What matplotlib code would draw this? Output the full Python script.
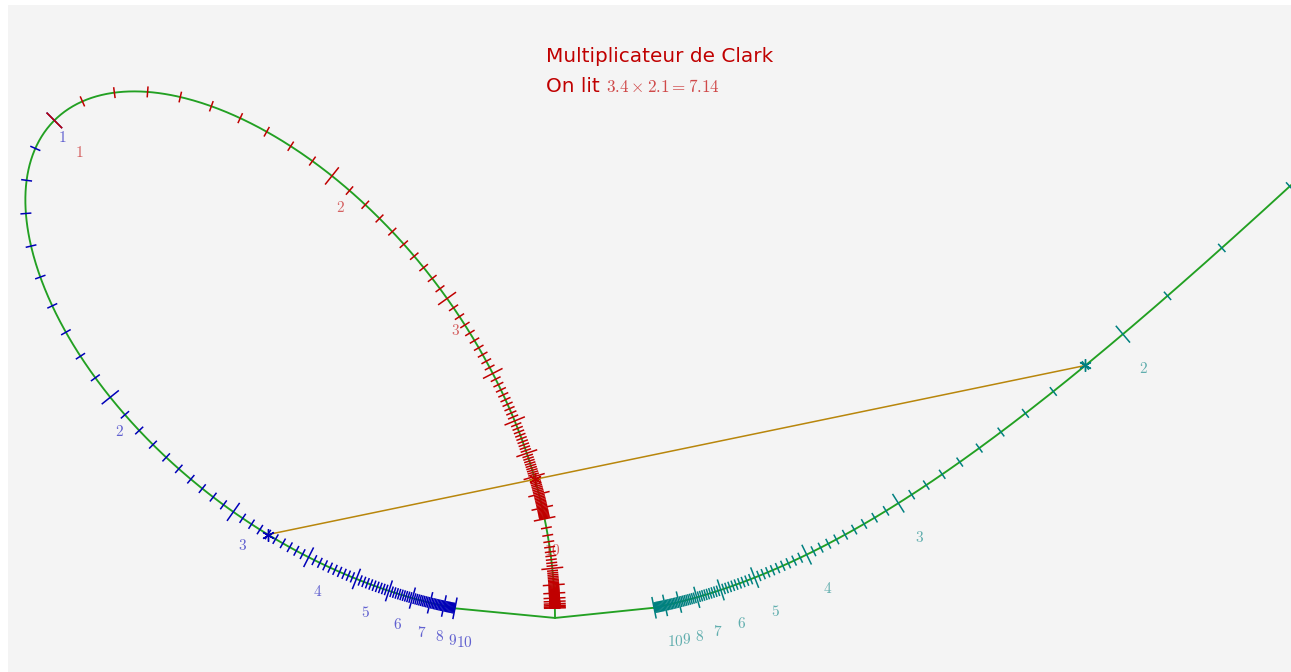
import numpy as np
import matplotlib
matplotlib.use('Agg')
import matplotlib.pyplot as plt
from matplotlib.collections import LineCollection

plt.rcParams['mathtext.fontset'] = 'cm'

# repères : valeur de graduation -> position (px)
blue_vals = [1, 1.5, 2, 2.5, 3, 3.4, 4, 10]
blue_x = [55, 40, 110, 178, 233, 268, 310, 455]
blue_y = [120, 277, 397, 469, 513, 534, 558, 607]

red_vals = [1, 1.5, 2, 2.5, 3, 7.14]
red_x = [55, 211, 332, 403, 448, 533]
red_y = [120, 106, 176, 245, 299, 480]

teal_vals = [2, 2.1, 2.5, 3, 10]
teal_x = [1123, 1085, 980, 898, 655]
teal_y = [333, 366, 449, 503, 607]

# lecture affichée
a_read, b_read = 3.4, 2.1

# graduations et étiquettes
blue_ticks = np.round(np.arange(1, 10.0001, 0.1), 2)
teal_ticks = np.round(np.arange(1, 10.0001, 0.1), 2)
red_ticks = np.concatenate([np.round(np.arange(1, 10, 0.1), 2), np.arange(10, 101, 1)])
blue_labels = [1, 2, 3, 4, 5, 6, 7, 8, 9, 10]
teal_labels = [1, 2, 3, 4, 5, 6, 7, 8, 9, 10]
red_labels = [1, 2, 3, 10]

C_GREEN = '#22a022'
C_RED = '#c00000'
C_BLUE = '#0000b8'
C_TEAL = '#008080'
C_ORANGE = '#b8860b'

XMIN, XMAX, YMIN, YMAX = 8, 1291, 5, 672

# ---- cubique nodale : P(t) = m0 (1 - t^3) + m1 t + m2 t^2, alignés si t1 t2 t3 = 1
X0, Y0, S = 640.0, 340.0, 400.0
obs = np.column_stack([
    (np.array(blue_x + red_x + teal_x) - X0) / S,
    (np.array(blue_y + red_y + teal_y) - Y0) / S,
])


def t_all(alpha):
    return np.concatenate([alpha * np.array(blue_vals, float),
                           alpha / np.array(red_vals, float),
                           np.array(teal_vals, float) / alpha ** 2])


def homog(m, t):
    t = np.asarray(t, float)
    f = np.stack([1 - t ** 3, t, t ** 2], axis=1)
    return f @ m


def project(m, t):
    h = homog(m, t)
    return h[:, :2] / h[:, 2:3]


def dlt(alpha):
    t = t_all(alpha)
    rows = []
    for (xn, yn), tt in zip(obs, t):
        f = [1 - tt ** 3, tt, tt ** 2]
        r1 = np.zeros(9)
        r2 = np.zeros(9)
        for j in range(3):
            r1[3 * j] = -f[j]
            r1[3 * j + 2] = xn * f[j]
            r2[3 * j + 1] = -f[j]
            r2[3 * j + 2] = yn * f[j]
        rows += [r1, r2]
    _, _, vt = np.linalg.svd(np.array(rows))
    return vt[-1].reshape(3, 3)


def resid(p):
    m = p[:9].reshape(3, 3)
    alpha = -np.exp(p[9])
    return (project(m, t_all(alpha)) - obs).ravel()


best = None
for la in np.linspace(-3, 3, 241):
    m = dlt(-np.exp(la))
    with np.errstate(all='ignore'):
        e = np.sum(resid(np.concatenate([m.ravel(), [la]])) ** 2)
    if np.isfinite(e) and (best is None or e < best[0]):
        best = (e, np.concatenate([m.ravel(), [la]]))

p = best[1]
lam = 1e-3
r = resid(p)
for _ in range(300):
    J = np.empty((r.size, p.size))
    for k in range(p.size):
        dp = np.zeros_like(p)
        dp[k] = 1e-7
        J[:, k] = (resid(p + dp) - r) / 1e-7
    A = J.T @ J
    g = J.T @ r
    step = np.linalg.solve(A + lam * np.diag(np.diag(A) + 1e-12), -g)
    pn = p + step
    pn[:9] /= np.linalg.norm(pn[:9])
    rn = resid(pn)
    if np.sum(rn ** 2) < np.sum(r ** 2):
        p, r = pn, rn
        lam *= 0.3
    else:
        lam *= 10

M = p[:9].reshape(3, 3)
ALPHA = -np.exp(p[9])


def to_px(t):
    q = project(M, np.atleast_1d(t))
    return np.column_stack([q[:, 0] * S + X0, q[:, 1] * S + Y0])


t_blue = lambda v: ALPHA * np.asarray(v, float)
t_red = lambda v: ALPHA / np.asarray(v, float)
t_teal = lambda v: np.asarray(v, float) / ALPHA ** 2


def tick_segments(t, major, small=5.5, big=11):
    t = np.asarray(t, float)
    pt = to_px(t)
    d = to_px(t * (1 + 1e-5)) - to_px(t * (1 - 1e-5))
    d /= np.linalg.norm(d, axis=1, keepdims=True)
    n = np.column_stack([-d[:, 1], d[:, 0]])
    h = np.where(major, big, small)[:, None]
    return np.stack([pt - h * n, pt + h * n], axis=1)


def inside(x, y):
    return XMIN + 5 < x < XMAX - 5 and YMIN + 5 < y < YMAX - 5


fig = plt.figure(figsize=(12.91, 6.72), dpi=100)
fig.patch.set_facecolor('white')
ax = fig.add_axes([XMIN / 1291, 0, (XMAX - XMIN) / 1291, (YMAX - YMIN) / 672])
ax.set_facecolor('#f4f4f4')
ax.set_xlim(XMIN, XMAX)
ax.set_ylim(YMAX, YMIN)
ax.set_xticks([])
ax.set_yticks([])
for sp in ax.spines.values():
    sp.set_visible(False)

# courbe verte
v = np.geomspace(0.01, 10, 1500)
loop = to_px(ALPHA * v)
ax.plot(loop[:, 0], loop[:, 1], color=C_GREEN, lw=1.35, zorder=2)
node = to_px(np.array([0.0]))[0]
b10 = to_px(t_blue([10]))[0]
r100 = to_px(t_red([100]))[0]
tl10 = to_px(t_teal([10]))[0]
ax.plot([b10[0], node[0], tl10[0]], [b10[1], node[1], tl10[1]], color=C_GREEN, lw=1.35, zorder=2)
ax.plot([r100[0], node[0]], [r100[1], node[1]], color=C_GREEN, lw=1.35, zorder=2)
vt = np.geomspace(0.6, 10, 1500)
hw = homog(M, t_teal(vt))[:, 2]
ok = np.sign(hw) == np.sign(homog(M, t_teal([2]))[0, 2])
tc = to_px(t_teal(vt[ok]))
ax.plot(tc[:, 0], tc[:, 1], color=C_GREEN, lw=1.35, zorder=2)

# graduations
ax.add_collection(LineCollection(
    tick_segments(t_blue(blue_ticks), np.isclose(blue_ticks, np.round(blue_ticks))),
    colors=C_BLUE, linewidths=1.1, zorder=3))
ax.add_collection(LineCollection(
    tick_segments(t_teal(teal_ticks), np.isclose(teal_ticks, np.round(teal_ticks))),
    colors=C_TEAL, linewidths=1.1, zorder=3))
red_major = np.where(red_ticks < 10, np.isclose(red_ticks, np.round(red_ticks)),
                     np.isclose(red_ticks % 10, 0))
ax.add_collection(LineCollection(
    tick_segments(t_red(red_ticks), red_major),
    colors=C_RED, linewidths=1.1, zorder=4))

# étiquettes
for val in blue_labels:
    x, y = to_px(t_blue([val]))[0]
    dx, dy = (8, 17) if val == 1 else (9, 34)
    if inside(x + dx, y + dy):
        ax.text(x + dx, y + dy, f'${val}$', color=C_BLUE, alpha=0.6, fontsize=11,
                ha='center', va='center', zorder=5)
for val in red_labels:
    x, y = to_px(t_red([val]))[0]
    dx, dy = (25, 32) if val == 1 else (8, 32)
    if inside(x + dx, y + dy):
        ax.text(x + dx, y + dy, f'${val}$', color=C_RED, alpha=0.6, fontsize=11,
                ha='center', va='center', zorder=5)
for val in teal_labels:
    x, y = to_px(t_teal([val]))[0]
    if inside(x + 21, y + 34):
        ax.text(x + 21, y + 34, f'${val}$', color=C_TEAL, alpha=0.6, fontsize=11,
                ha='center', va='center', zorder=5)

# droite de lecture
pa = to_px(t_blue([a_read]))[0]
pb = to_px(t_teal([b_read]))[0]
pc = to_px(t_red([a_read * b_read]))[0]
ax.plot([pa[0], pb[0]], [pa[1], pb[1]], color=C_ORANGE, lw=1.1, zorder=6)
ax.plot(*pa, marker=(6, 2, 0), ms=9, color=C_BLUE, mew=1, zorder=7)
ax.plot(*pb, marker=(6, 2, 0), ms=9, color=C_TEAL, mew=1, zorder=7)
ax.plot(*pc, marker=(6, 2, 0), ms=9, color=C_RED, mew=1, zorder=7)

ax.text(546, 57, 'Multiplicateur de Clark', color=C_RED, fontsize=14.4,
        ha='left', va='center', family='DejaVu Sans')
ax.text(546, 86, 'On lit', color=C_RED, fontsize=14.4, ha='left', va='center',
        family='DejaVu Sans')
ax.text(606, 87, rf'${a_read}\times{b_read}={a_read * b_read:.2f}$', color=C_RED,
        alpha=0.7, fontsize=12.3, ha='left', va='center')

fig.savefig('out.png', dpi=100, facecolor='white')
